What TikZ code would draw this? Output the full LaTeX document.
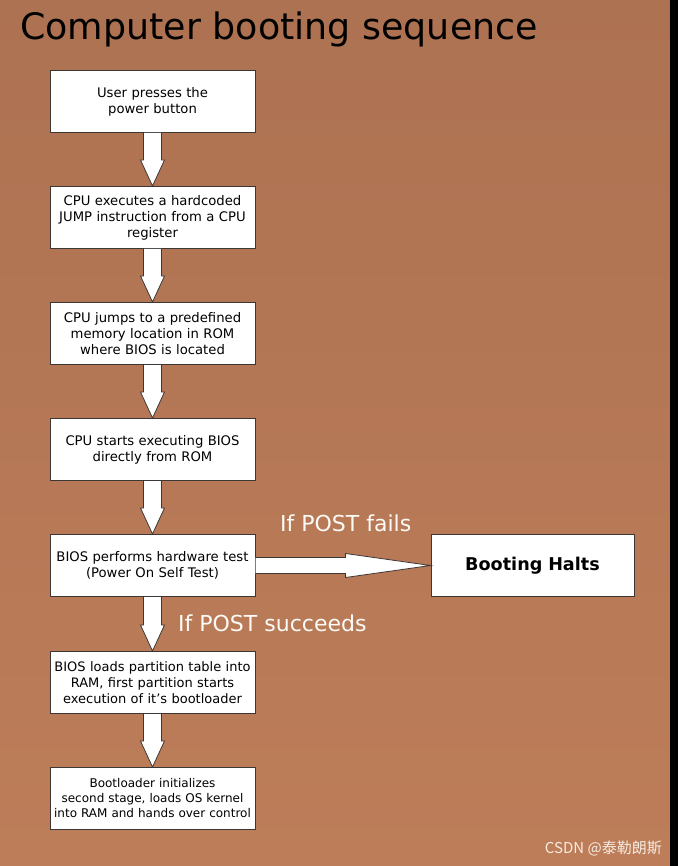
\documentclass[tikz,border=0pt]{standalone}
\usepackage{fontspec}
\setmainfont{DejaVu Sans}
\newfontfamily\cjkfont{Noto Sans CJK SC}
\usetikzlibrary{positioning,calc}
\definecolor{bgtop}{RGB}{173,114,82}
\definecolor{bgbot}{RGB}{189,125,89}
\definecolor{boxline}{RGB}{60,55,52}
\tikzset{
  stage/.style={draw=boxline,line width=1pt,fill=white,minimum width=205pt,minimum height=62pt,
    text width=203pt,inner sep=1pt,align=center,font=\fontsize{13.2}{16}\selectfont},
  fatarrow/.style={draw=boxline,line width=0.8pt,fill=white,line join=miter},
  caption/.style={text=white!96!brown,inner sep=0pt,anchor=base west,font=\fontsize{22}{26}\selectfont}
}
\newcommand{\downstep}[2]{%
  \filldraw[fatarrow] ($(#1.south)+(-9pt,0)$) -- ($(#2.north)+(-9pt,26pt)$) -- ($(#2.north)+(-12pt,26pt)$)
    -- (#2.north) -- ($(#2.north)+(12pt,26pt)$) -- ($(#2.north)+(9pt,26pt)$) -- ($(#1.south)+(9pt,0)$);}
\begin{document}
\begin{tikzpicture}
  \shade[top color=bgtop,bottom color=bgbot] (0,0) rectangle (670pt,-866pt);
  \fill[black] (670pt,0) rectangle (678pt,-866pt);
  \node[anchor=base west,inner sep=0pt,font=\fontsize{36.4}{40}\selectfont] (title) at (20pt,-40pt) {Computer booting sequence};
  \node[stage] (power) at (152.5pt,-101.5pt) {User presses the\\power button\par\vspace*{10pt}};
  \node[stage,below=53pt of power] (jump) {CPU executes a hardcoded\\JUMP instruction from a CPU\\register\par\vspace*{3pt}};
  \node[stage,below=53pt of jump] (rom) {CPU jumps to a predefined\\memory location in ROM\\where BIOS is located\par\vspace*{3pt}};
  \node[stage,below=53pt of rom] (bios) {CPU starts executing BIOS\\directly from ROM\par\vspace*{10pt}};
  \node[stage,below=53pt of bios] (post) {BIOS performs hardware test\\(Power On Self Test)\par\vspace*{6pt}};
  \node[stage,below=54pt of post,font=\fontsize{13}{16}\selectfont] (mbr) {BIOS loads partition table into\\RAM, first partition starts\\execution of it's bootloader\par\vspace*{3pt}};
  \node[stage,below=53pt of mbr,font=\fontsize{12}{15}\selectfont] (loader) {Bootloader initializes\\second stage, loads OS kernel\\into RAM and hands over control\par\vspace*{3pt}};
  \node[stage,right=175pt of post,minimum width=203pt,text width=201pt,font=\bfseries\fontsize{17.6}{20}\selectfont] (halt) {Booting Halts};
  \downstep{power}{jump}
  \downstep{jump}{rom}
  \downstep{rom}{bios}
  \downstep{bios}{post}
  \downstep{post}{mbr}
  \downstep{mbr}{loader}
  \filldraw[fatarrow] ($(post.east)+(0,8pt)$) -- ($(halt.west)+(-85pt,8pt)$) -- ($(halt.west)+(-85pt,12pt)$)
    -- (halt.west) -- ($(halt.west)+(-85pt,-12pt)$) -- ($(halt.west)+(-85pt,-8pt)$) -- ($(post.east)+(0,-8pt)$);
  \node[caption] (fails) at (280pt,-531pt) {If POST fails};
  \node[caption] (succeeds) at (178pt,-631pt) {If POST succeeds};
  \node[anchor=base east,inner sep=0pt,text=white!85!brown,font=\cjkfont\fontsize{15}{18}\selectfont] (mark) at (662pt,-853pt) {CSDN @泰勒朗斯};
\end{tikzpicture}
\end{document}
